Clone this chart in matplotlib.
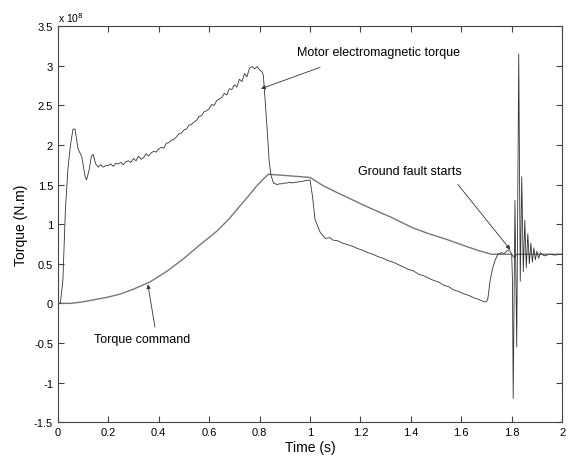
import matplotlib
matplotlib.use("Agg")
import matplotlib.pyplot as plt
from matplotlib.ticker import FormatStrFormatter

plt.rcParams['font.family'] = ['Liberation Sans', 'DejaVu Sans']
plt.rcParams['axes.unicode_minus'] = False

# torque command (x 1e8 N.m)
cmd_t = [0, 0.05, 0.1, 0.15, 0.2, 0.25, 0.3, 0.365, 0.43, 0.497, 0.56, 0.63, 0.68, 0.722,
         0.76, 0.788, 0.815, 0.835, 0.9, 1.0, 1.05, 1.10, 1.16, 1.24, 1.32, 1.41, 1.48, 1.54,
         1.61, 1.675, 1.72, 1.80, 1.81, 1.82, 2.0]
cmd_v = [0, 0.0, 0.02, 0.05, 0.08, 0.12, 0.18, 0.27, 0.40, 0.56, 0.73, 0.91, 1.07, 1.23,
         1.37, 1.48, 1.57, 1.63, 1.615, 1.59, 1.49, 1.41, 1.32, 1.20, 1.09, 0.95, 0.87, 0.81,
         0.73, 0.66, 0.62, 0.62, 0.58, 0.62, 0.62]

# motor electromagnetic torque (x 1e8 N.m)
mot_t = [0, 0.01, 0.02, 0.03, 0.04, 0.05, 0.06, 0.068, 0.08, 0.095, 0.108, 0.114, 0.125, 0.133, 0.14, 0.15,
         0.16, 0.17, 0.18, 0.19, 0.20, 0.21, 0.22, 0.23, 0.24, 0.25, 0.26, 0.27, 0.28, 0.29,
         0.30, 0.31, 0.32, 0.33, 0.34, 0.35, 0.36, 0.37, 0.38, 0.39, 0.40, 0.41, 0.42, 0.43,
         0.44, 0.45, 0.46, 0.47, 0.48, 0.49, 0.50, 0.51, 0.52, 0.53, 0.54, 0.55, 0.56, 0.57,
         0.58, 0.59, 0.60, 0.61, 0.62, 0.63, 0.64, 0.65, 0.66, 0.67, 0.68, 0.69, 0.70, 0.71,
         0.72, 0.73, 0.74, 0.75, 0.76, 0.77, 0.78, 0.79, 0.80, 0.81, 0.815, 0.82, 0.83, 0.838,
         0.845, 0.855, 0.87, 0.88, 0.89, 0.90, 0.91, 0.92, 0.93, 0.94, 0.95, 0.96, 0.97, 0.98,
         0.99, 1.0, 1.01, 1.02, 1.04, 1.06, 1.08, 1.09, 1.11, 1.13, 1.15, 1.17, 1.19, 1.21, 1.23,
         1.25, 1.27, 1.29, 1.31, 1.33, 1.35, 1.37, 1.39, 1.41, 1.43, 1.45, 1.47, 1.49, 1.51,
         1.53, 1.55, 1.57, 1.59, 1.61, 1.63, 1.65, 1.67, 1.69, 1.70, 1.705, 1.715, 1.725, 1.735,
         1.745, 1.76, 1.77, 1.78, 1.79, 1.80, 1.803, 1.806, 1.813, 1.82, 1.828, 1.834, 1.84,
         1.846, 1.852, 1.858, 1.864, 1.870, 1.876, 1.882, 1.888, 1.894, 1.90, 1.907, 1.914,
         1.92, 1.93, 1.95, 1.97, 2.0]
mot_v = [0, 0.0, 0.3, 1.2, 1.7, 2.0, 2.2, 2.2, 1.95, 1.85, 1.6, 1.56, 1.7, 1.86, 1.88, 1.76,
         1.72, 1.75, 1.72, 1.74, 1.74, 1.76, 1.73, 1.77, 1.76, 1.78, 1.75, 1.79, 1.80, 1.78,
         1.83, 1.80, 1.86, 1.82, 1.84, 1.89, 1.86, 1.90, 1.92, 1.91, 1.95, 1.97, 1.96, 2.02,
         2.03, 2.06, 2.07, 2.10, 2.14, 2.15, 2.19, 2.20, 2.25, 2.26, 2.29, 2.31, 2.36, 2.37,
         2.42, 2.43, 2.46, 2.51, 2.50, 2.56, 2.58, 2.60, 2.65, 2.63, 2.71, 2.70, 2.76, 2.73,
         2.83, 2.80, 2.90, 2.86, 2.97, 2.99, 2.96, 2.99, 2.95, 2.92, 2.88, 2.65, 2.2, 1.8,
         1.62, 1.52, 1.50, 1.51, 1.51, 1.52, 1.52, 1.53, 1.52, 1.53, 1.53, 1.54, 1.54, 1.55,
         1.55, 1.56, 1.35, 1.06, 0.90, 0.82, 0.83, 0.80, 0.79, 0.76, 0.74, 0.72, 0.69, 0.67, 0.64,
         0.62, 0.59, 0.57, 0.54, 0.52, 0.49, 0.46, 0.43, 0.41, 0.37, 0.35, 0.32, 0.29, 0.27,
         0.23, 0.21, 0.17, 0.15, 0.12, 0.10, 0.07, 0.05, 0.02, 0.02, 0.05, 0.30, 0.45, 0.55,
         0.62, 0.64, 0.63, 0.66, 0.68, 0.62, 0.3, -1.2, 1.3, -0.55, 3.15, 0.28, 1.6,
         0.4, 1.05, 0.45, 0.88, 0.5, 0.76, 0.52, 0.70, 0.55, 0.66, 0.57, 0.64,
         0.62, 0.60, 0.62, 0.61, 0.62]

fig = plt.figure(figsize=(5.73, 4.60), dpi=100)
ax = fig.add_axes([0.101, 0.080, 0.880, 0.861])

ax.plot(cmd_t, cmd_v, color='#777777', lw=1.0)
ax.plot(mot_t, mot_v, color='#333333', lw=0.6)

ax.set_xlim(0, 2)
ax.set_ylim(-1.5, 3.5)
ax.set_xticks([0, 0.2, 0.4, 0.6, 0.8, 1, 1.2, 1.4, 1.6, 1.8, 2])
ax.set_yticks([-1.5, -1, -0.5, 0, 0.5, 1, 1.5, 2, 2.5, 3, 3.5])
ax.xaxis.set_major_formatter(FormatStrFormatter('%g'))
ax.yaxis.set_major_formatter(FormatStrFormatter('%g'))
ax.tick_params(direction='in', top=True, right=True, length=4, labelsize=8, color='#444444')
for s in ax.spines.values():
    s.set_color('#444444')

ax.set_xlabel('Time (s)', fontsize=10, labelpad=2)
ax.set_ylabel('Torque (N.m)', fontsize=10, labelpad=4)
ax.text(0.0, 1.005, 'x 10$^8$', transform=ax.transAxes, fontsize=7.5, va='bottom', ha='left')

arrow = dict(arrowstyle='-|>', lw=0.6, color='#333333', mutation_scale=6, shrinkA=0, shrinkB=0)
ax.annotate('', xy=(0.806, 2.71), xytext=(1.04, 2.98), arrowprops=arrow)
ax.text(1.27, 3.17, 'Motor electromagnetic torque', fontsize=9, ha='center', va='center')
ax.annotate('', xy=(1.794, 0.68), xytext=(1.587, 1.50), arrowprops=arrow)
ax.text(1.397, 1.67, 'Ground fault starts', fontsize=9, ha='center', va='center')
ax.annotate('', xy=(0.357, 0.24), xytext=(0.385, -0.30), arrowprops=arrow)
ax.text(0.333, -0.45, 'Torque command', fontsize=9, ha='center', va='center')

fig.savefig('out.png', dpi=100)
